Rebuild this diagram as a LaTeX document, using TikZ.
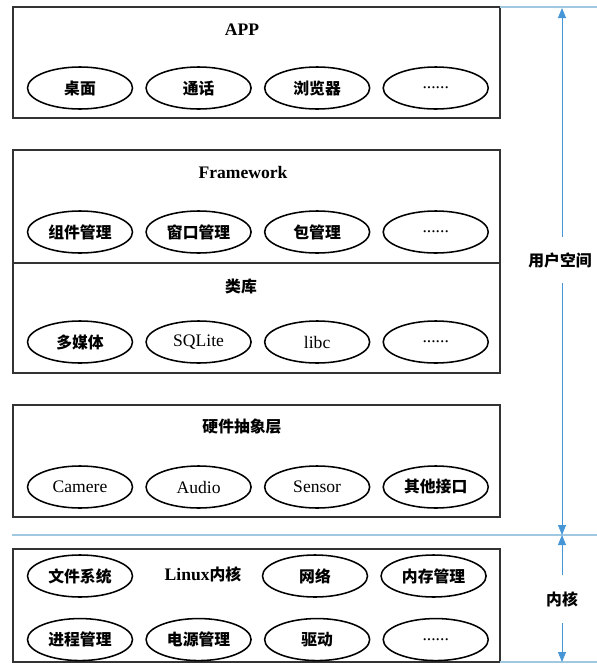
\documentclass[tikz,border=0pt]{standalone}
\usepackage{fontspec}
\setmainfont{Liberation Serif}
\newfontfamily\cjkfont{Noto Sans CJK SC}[Scale=0.9]
\newcommand{\zhtext}[1]{{\cjkfont\bfseries #1}}
\usepackage{tikz}
\usetikzlibrary{arrows.meta, positioning, shapes.geometric}
\definecolor{spanblue}{RGB}{70,150,215}
\definecolor{sepblue}{RGB}{160,200,225}
\tikzset{
    layer/.style = {draw=black!80, line width=1.3pt},
    module/.style = {ellipse, draw, line width=1.1pt, minimum width=2.625cm, minimum height=1.05cm, inner sep=0pt, font=\fontsize{12.5}{15}\selectfont},
    title/.style = {inner sep=0pt, font=\fontsize{12.5}{15}\selectfont\bfseries},
    span/.style = {draw=spanblue, line width=0.6pt, -{Triangle[length=0.25cm, width=0.2cm]}},
    sep/.style = {draw=sepblue, line width=0.8pt},
}
\begin{document}
\begin{tikzpicture}[x=0.025cm, y=-0.025cm]
    \useasboundingbox (0,0) rectangle (597,667);

    % APP
    \draw[layer] (13,7) rectangle (500,118);
    \node[title] (app) at (242,30) {APP};
    \node[module] (desk) at (80,88) {\zhtext{桌面}};
    \node[module, right=0.3cm of desk] (phone) {\zhtext{通话}};
    \node[module, right=0.3cm of phone] (browser) {\zhtext{浏览器}};
    \node[module, right=0.3cm of browser] (appmore) {......};

    % Framework
    \draw[layer] (13,150) rectangle (500,263);
    \node[title] (fw) at (243,172) {Framework};
    \node[module] (comp) at (80,232) {\zhtext{组件管理}};
    \node[module, right=0.3cm of comp] (win) {\zhtext{窗口管理}};
    \node[module, right=0.3cm of win] (pkg) {\zhtext{包管理}};
    \node[module, right=0.3cm of pkg] (fwmore) {......};

    % libraries
    \draw[layer] (13,263) rectangle (500,373);
    \node[title] (lib) at (241,286) {\zhtext{类库}};
    \node[module] (media) at (80,342) {\zhtext{多媒体}};
    \node[module, right=0.3cm of media] (sqlite) {SQLite};
    \node[module, right=0.3cm of sqlite] (libc) {libc};
    \node[module, right=0.3cm of libc] (libmore) {......};

    % HAL
    \draw[layer] (13,405) rectangle (500,517);
    \node[title] (hal) at (242,427) {\zhtext{硬件抽象层}};
    \node[module] (camera) at (80,487) {Camere};
    \node[module, right=0.3cm of camera] (audio) {Audio};
    \node[module, right=0.3cm of audio] (sensor) {Sensor};
    \node[module, right=0.3cm of sensor] (other) {\zhtext{其他接口}};

    % kernel
    \draw[layer] (13,549) rectangle (500,662);
    \node[title] (linux) at (203,574) {Linux\zhtext{内核}};
    \node[module] (fs) at (80,576) {\zhtext{文件系统}};
    \node[module] (net) at (315,576) {\zhtext{网络}};
    \node[module, right=0.3cm of net] (mem) {\zhtext{内存管理}};
    \node[module, below=0.5cm of fs] (proc) {\zhtext{进程管理}};
    \node[module, right=0.3cm of proc] (power) {\zhtext{电源管理}};
    \node[module, right=0.3cm of power] (driver) {\zhtext{驱动}};
    \node[module, right=0.3cm of driver] (kmore) {......};

    % space markers
    \draw[sep] (500,7) -- (597,7);
    \draw[sep] (12,535) -- (597,535);
    \draw[sep] (500,662) -- (597,662);
    \coordinate (ustop) at (562,8);
    \coordinate (umid) at (562,535);
    \coordinate (kbot) at (562,662);
    \node[minimum height=1.15cm, font=\fontsize{12.5}{15}\selectfont] (user) at (560,260) {\zhtext{用户空间}};
    \node[minimum height=1.2cm, font=\fontsize{12.5}{15}\selectfont] (kernel) at (562,599) {\zhtext{内核}};
    \draw[span] (user.north -| ustop) -- (ustop);
    \draw[span] (user.south -| ustop) -- (umid);
    \draw[span] (kernel.north) -- (umid);
    \draw[span] (kernel.south) -- (kbot);
\end{tikzpicture}
\end{document}
